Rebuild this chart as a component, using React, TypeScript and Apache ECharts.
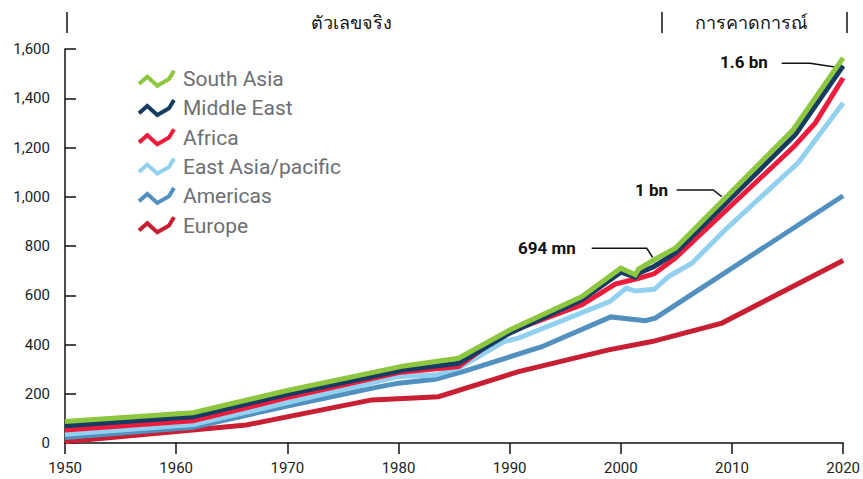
import React, { useEffect, useRef } from "react";
import * as echarts from "echarts";

const seriesNames = ["South Asia", "Middle East", "Africa", "East Asia/pacific", "Americas", "Europe"];
const seriesColors = ["#8dc63f", "#173c63", "#ee1c3c", "#92d0f0", "#5190bf", "#c81f32"];

const southAsiaYears = [1950, 1961.5, 1970, 1980.5, 1985.4, 1990, 1996.5, 2000, 2001.3, 2001.6, 2003, 2004.9, 2015.5, 2020];
const southAsiaValues = [87, 123, 213, 313, 344, 459, 595, 710, 683, 706, 744, 791, 1272, 1564];

const middleEastYears = [1950, 1961.5, 1970, 1980.5, 1985.4, 1990, 1996.5, 2000, 2001.3, 2001.6, 2003, 2004.9, 2015.7, 2020];
const middleEastValues = [70, 107, 198, 297, 324, 446, 581, 694, 674, 690, 717, 771, 1252, 1532];

const africaYears = [1950, 1961.5, 1970, 1980, 1985.4, 1989.3, 1996.5, 1999.5, 2001.6, 2003, 2004.9, 2015.6, 2017.5, 2020];
const africaValues = [53, 90, 184, 286, 310, 440, 561, 645, 669, 687, 751, 1205, 1300, 1482];

const eastAsiaYears = [1950, 1961.5, 1970, 1980, 1983.3, 1985.4, 1989.5, 1990.8, 1999, 2000.5, 2001.3, 2003, 2004.3, 2006.4, 2009.4, 2016, 2020];
const eastAsiaValues = [35, 75, 164, 270, 276, 304, 412, 426, 574, 629, 617, 624, 676, 730, 866, 1140, 1381];

const americasYears = [1950, 1961.5, 1970, 1978, 1980, 1983.3, 1985.8, 1992.9, 1999.1, 2002.2, 2003.1, 2020];
const americasValues = [22, 64, 150, 226, 243, 259, 290, 391, 512, 497, 507, 1004];

const europeYears = [1950, 1961.5, 1966.3, 1977.6, 1980, 1983.6, 1990.8, 1998.9, 2002.8, 2009.1, 2020];
const europeValues = [5, 53, 73, 175, 180, 188, 290, 378, 412, 487, 741];

const allYears = [southAsiaYears, middleEastYears, africaYears, eastAsiaYears, americasYears, europeYears];
const allValues = [southAsiaValues, middleEastValues, africaValues, eastAsiaValues, americasValues, europeValues];

const headerLabels = ["ตัวเลขจริง", "การคาดการณ์"];
const annotations = ["1.6 bn", "1 bn", "694 mn"];

export default function App() {
  const ref = useRef<HTMLDivElement>(null);
  useEffect(() => {
    if (!ref.current) return;
    const chart = echarts.init(ref.current, null, { renderer: "svg" });
    const series: any[] = [];
    for (let i = seriesNames.length - 1; i >= 0; i--) {
      series.push({
        name: seriesNames[i],
        type: "line",
        data: allYears[i].map((y, k) => [y, allValues[i][k]]),
        showSymbol: false,
        symbol: "none",
        lineStyle: { width: 5, color: seriesColors[i], cap: "butt", join: "miter" },
        itemStyle: { color: seriesColors[i] },
        clip: false,
      });
    }
    const graphic: any[] = [];
    // legend
    seriesNames.forEach((n, i) => {
      const cy = 79 + i * 29.3;
      graphic.push({
        type: "polyline",
        shape: { points: [[139, cy + 5], [147.3, cy - 2.3], [157.3, cy + 6.7], [169, cy], [174, cy - 8.3]] },
        style: { stroke: seriesColors[i], lineWidth: 4, fill: null },
      });
      graphic.push({
        type: "text",
        x: 183,
        y: cy,
        style: { text: n, fill: "#6d6e71", font: "21px Roboto", textVerticalAlign: "middle" },
      });
    });
    // header
    [67, 662, 847].forEach((x) => {
      graphic.push({ type: "line", shape: { x1: x, y1: 12, x2: x, y2: 33 }, style: { stroke: "#111", lineWidth: 1.5 } });
    });
    graphic.push({
      type: "text", x: 351, y: 22,
      style: { text: headerLabels[0], fill: "#111", font: "18px 'Noto Sans', 'DejaVu Sans', sans-serif", align: "center", verticalAlign: "middle" },
    });
    graphic.push({
      type: "text", x: 751, y: 22,
      style: { text: headerLabels[1], fill: "#111", font: "18px 'Noto Sans', 'DejaVu Sans', sans-serif", align: "center", verticalAlign: "middle" },
    });
    // annotations
    const annPos = [
      { tx: 720, ty: 62, pts: [[781.7, 63.3], [810, 63.3], [836.7, 67.3]] },
      { tx: 635, ty: 190, pts: [[676.7, 190], [713.3, 190], [721.7, 196.7]] },
      { tx: 518, ty: 248, pts: [[591.7, 248.3], [646.7, 248.3], [652.7, 257.3]] },
    ];
    annotations.forEach((a, i) => {
      const p = annPos[i];
      graphic.push({
        type: "text", x: p.tx, y: p.ty,
        style: { text: a, fill: "#111", font: "bold 17px Roboto", verticalAlign: "middle" },
      });
      graphic.push({ type: "polyline", shape: { points: p.pts }, style: { stroke: "#111", lineWidth: 1.5, fill: null } });
    });

    chart.setOption({
      animation: false,
      backgroundColor: "#fff",
      grid: { left: 65, right: 18, top: 49, bottom: 36 },
      xAxis: {
        type: "value",
        min: 1950,
        max: 2020,
        interval: 10,
        splitLine: { show: false },
        axisLine: { lineStyle: { color: "#111", width: 1.5 } },
        axisTick: { show: true, length: 11, lineStyle: { color: "#111", width: 1.5 } },
        axisLabel: { color: "#222", fontSize: 15, fontFamily: "Roboto", margin: 17, formatter: (v: number) => String(v) },
      },
      yAxis: {
        type: "value",
        min: 0,
        max: 1600,
        interval: 200,
        splitLine: { show: false },
        axisLine: { show: true, lineStyle: { color: "#111", width: 1.5 } },
        axisTick: { show: true, inside: true, length: 11, lineStyle: { color: "#111", width: 1.5 } },
        axisLabel: {
          color: "#222", fontSize: 15, fontFamily: "Roboto", margin: 15,
          formatter: (v: number) => v.toLocaleString("en-US"),
        },
      },
      series,
      graphic,
    });
    return () => chart.dispose();
  }, []);
  return <div ref={ref} style={{ width: 863, height: 479, position: "absolute", left: 0, top: 0 }} />;
}
